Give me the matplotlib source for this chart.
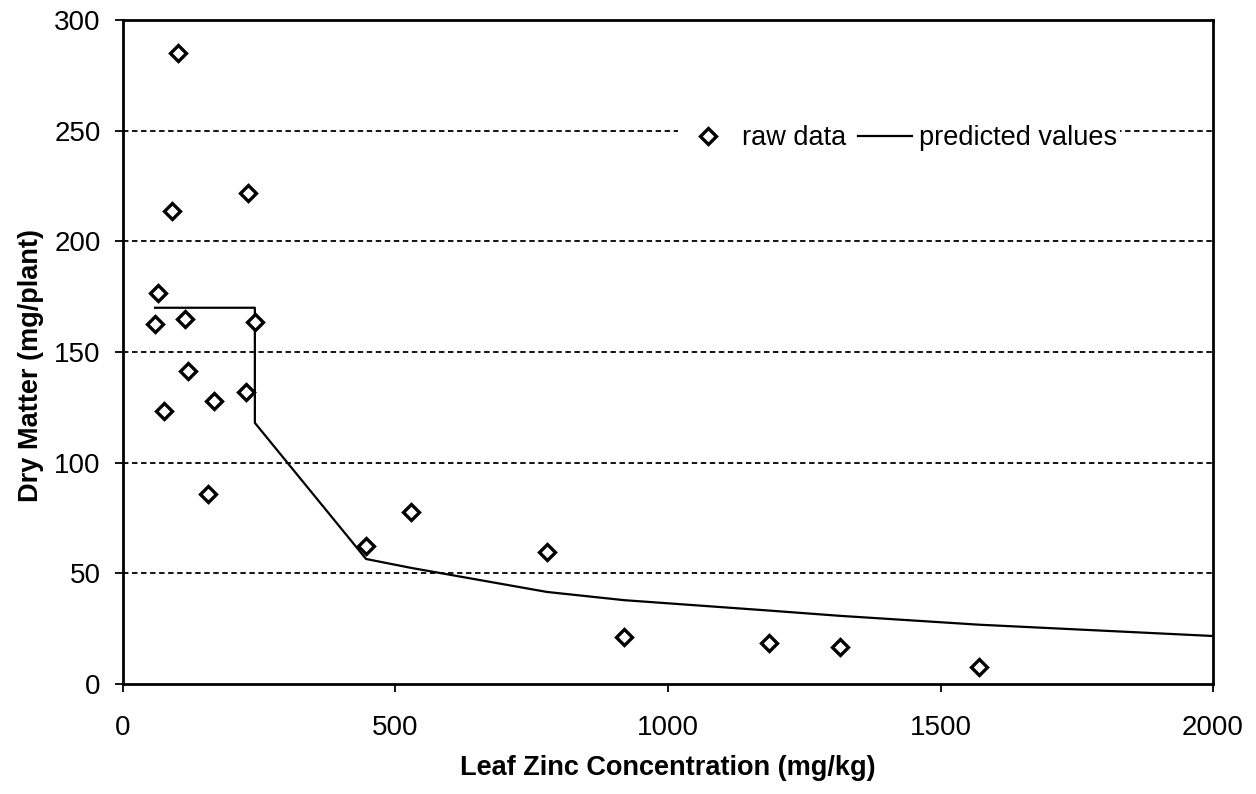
import matplotlib.pyplot as plt
from matplotlib.ticker import MultipleLocator

plt.rcParams["font.family"] = ["Liberation Sans", "DejaVu Sans"]

# raw data
zinc = [59, 64, 75, 90, 101, 114, 119, 156, 167, 226, 229, 242,
        446, 528, 778, 919, 1185, 1316, 1571]
dry_matter = [162.6, 176.7, 123.3, 213.7, 285, 164.9, 141.4, 85.8, 127.9, 132, 221.8, 163.6,
              62.3, 77.7, 59.6, 21.4, 18.7, 16.7, 7.5]

# predicted (fitted) line
pred_x = [59, 242, 242, 446, 528, 778, 919, 1185, 1316, 1571, 2000]
pred_y = [170, 170, 118, 56.5, 52.5, 41.6, 37.9, 33.2, 30.8, 26.8, 21.7]

x_ticks = [0, 500, 1000, 1500, 2000]
y_grid = [50, 100, 150, 200, 250]

fig = plt.figure(figsize=(12.56, 7.94), dpi=100)
ax = fig.add_axes([0.0979, 0.1385, 0.8679, 0.8363])

for g in y_grid:
    ax.axhline(g, color="black", lw=1.3, ls=(0, (3, 2)), zorder=1)

ax.plot(zinc, dry_matter, ls="none", marker="D", markersize=8.5,
        markerfacecolor="white", markeredgecolor="black", markeredgewidth=2.4,
        label="raw data", zorder=3)
ax.plot(pred_x, pred_y, color="black", lw=1.6, label="predicted values", zorder=2)

ax.set_xlim(0, 2000)
ax.set_ylim(0, 300)
ax.set_xticks(x_ticks)
ax.yaxis.set_major_locator(MultipleLocator(50))
ax.tick_params(direction="out", length=6, width=1.3, labelsize=20)
ax.tick_params(axis="x", pad=16)
ax.tick_params(axis="y", pad=10)

for s in ax.spines.values():
    s.set_linewidth(2)
    s.set_color("black")

ax.set_xlabel("Leaf Zinc Concentration (mg/kg)", fontsize=19.5, fontweight="bold")
ax.set_ylabel("Dry Matter (mg/plant)", fontsize=19.5, fontweight="bold")
ax.xaxis.set_label_coords(0.5, -0.1265)
ax.xaxis.label.set_va("center")
ax.yaxis.set_label_coords(-0.0844, 0.48)
ax.yaxis.label.set_va("center")

leg = ax.legend(loc="center", bbox_to_anchor=(0.712, 0.822), ncol=2, fontsize=19.5,
                frameon=True, framealpha=1, facecolor="white", edgecolor="none",
                handlelength=2.0, columnspacing=0.45, handletextpad=0.25,
                borderpad=0.1, fancybox=False)
leg.set_zorder(5)

fig.savefig("out.png", dpi=100)
